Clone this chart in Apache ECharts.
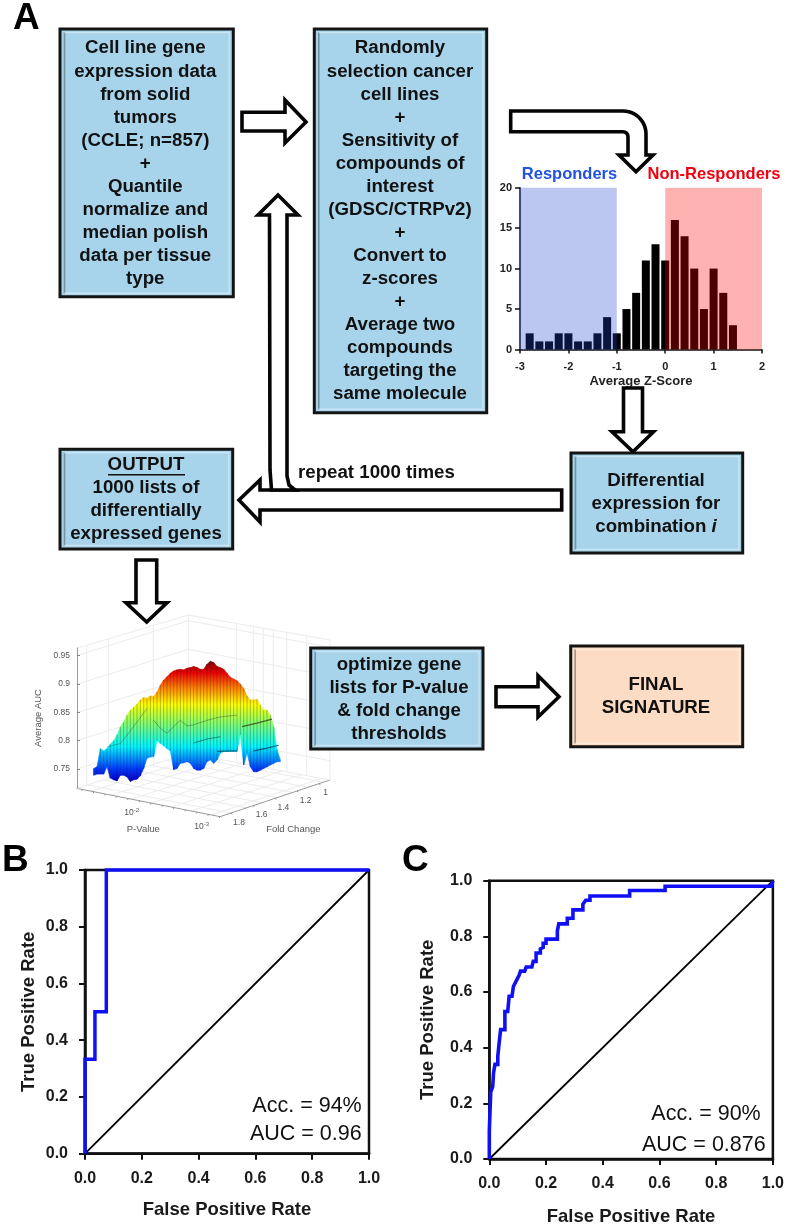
<!DOCTYPE html>
<html>
<head>
<meta charset="utf-8">
<style>html,body{margin:0;padding:0;background:#fff}#c{width:787px;height:1227px}</style>
<script src="https://cdn.jsdelivr.net/npm/echarts@6/dist/echarts.min.js"></script>
</head>
<body>
<div id="c"></div>
<script>
// ---------- data ----------
const histCenters = [-2.8,-2.6,-2.4,-2.2,-2.0,-1.8,-1.6,-1.4,-1.2,-1.0,-0.8,-0.6,-0.4,-0.2,0,0.2,0.4,0.6,0.8,1.0,1.2,1.4];
const histCounts  = [2,1,1,2,2,1,1,2,4,2,5,7,11,13,11,16,14,10,5,10,7,3];
const responderBand = [-3,-1];
const nonResponderBand = [0,2];

const aucTicks = [0.75,0.8,0.85,0.9,0.95];
const surfaceTop = [.751,.754,.786,.782,.786,.794,.800,.810,.824,.833,.845,.854,.859,.865,.872,.876,.875,.879,.878,.886,.898,.907,.913,.919,.923,.925,.926,.925,.928,.929,.931,.929,.926,.926,.935,.940,.938,.931,.929,.926,.919,.912,.909,.906,.900,.892,.879,.872,.872,.873,.863,.854,.854,.845,.825,.784,.766];
const surfaceBottom = [.739,.741,.741,.741,.754,.734,.731,.729,.739,.739,.736,.728,.731,.732,.738,.751,.769,.771,.772,.800,.795,.791,.786,.782,.749,.751,.760,.761,.763,.760,.751,.748,.748,.751,.763,.766,.760,.766,.778,.781,.781,.781,.781,.781,.810,.757,.778,.754,.745,.745,.748,.751,.754,.757,.760,.763,.763];
const ridgeA = [[44.5,.825],[49,.831],[53.5,.838]];
const ridgeB = [[48,.782],[52,.787],[55.5,.792]];
const ridgeC = [[30,.796],[34,.803],[38,.807]];
const ridgeD = [[18,.836],[20,.822],[22,.813],[24,.825],[26,.836],[28,.826],[30,.828],[34,.836],[38,.842],[43,.845]];
const ridgeE = [[4,.789],[8,.795],[12,.825],[16,.857]];
const ridgeF = [[37,.781],[43,.782]];

const rocBx = [0,0,.035,.035,.075,.075,1];
const rocBy = [0,.333,.333,.5,.5,1,1];
const rocCx = [0,0,.005,.005,.01,.012,.015,.02,.02,.03,.03,.035,.035,.04,.04,.055,.055,.065,.07,.08,.085,.095,.105,.11,.125,.13,.15,.155,.165,.165,.18,.18,.19,.19,.2,.2,.24,.24,.245,.245,.275,.275,.295,.295,.33,.33,.34,.355,.355,.495,.495,.62,.62,.995,1];
const rocCy = [0,.10,.10,.24,.24,.26,.31,.31,.34,.34,.37,.37,.42,.42,.465,.465,.53,.53,.585,.585,.62,.64,.66,.675,.675,.69,.69,.71,.71,.74,.74,.755,.76,.775,.775,.79,.79,.82,.82,.845,.845,.865,.865,.895,.895,.915,.93,.93,.945,.945,.965,.965,.98,.98,1];
const diagonal = [[0,0],[1,1]];

const box1Lines = ['Cell line gene','expression data','from solid','tumors','(CCLE; n=857)','+','Quantile','normalize and','median polish','data per tissue','type'];
const box2Lines = ['Randomly','selection cancer','cell lines','+','Sensitivity of','compounds of','interest','(GDSC/CTRPv2)','+','Convert to','z-scores','+','Average two','compounds','targeting the','same molecule'];
const outputLines = ['OUTPUT','1000 lists of','differentially','expressed genes'];
const diffLines = ['Differential','expression for','combination {i|i}'];
const optimizeLines = ['optimize gene','lists for P-value','& fold change','thresholds'];
const finalLines = ['FINAL','SIGNATURE'];

// ---------- helpers ----------
const FF = '"Liberation Sans",Arial,sans-serif';
const BOXFONT = 18.7;
const els = [];
function text(x,y,t,o){
  o=o||{};
  els.push({type:'text',x:x,y:y,rotation:o.rot||0,z:o.z||10,silent:true,style:Object.assign({
    text:t,fill:o.fill||'#111',font:(o.weight||'bold')+' '+(o.size||BOXFONT)+'px '+FF,
    textAlign:o.align||'center',textVerticalAlign:'middle'},o.rich?{rich:o.rich}:{})});
}
function line(x1,y1,x2,y2,c,w,z){
  els.push({type:'line',z:z==null?0:z,silent:true,shape:{x1,y1,x2,y2},style:{stroke:c,lineWidth:w}});
}
function poly(pts,o){
  els.push({type:'polygon',z:8,silent:true,shape:{points:pts},style:{fill:'#fff',stroke:'#050505',lineWidth:3.6,lineJoin:'miter',miterLimit:8}});
}
function box(x0,y0,x1,y1,fill,lines,cx,ys,rich){
  els.push({type:'rect',z:5,silent:true,shape:{x:x0,y:y0,width:x1-x0,height:y1-y0},style:{fill:fill,stroke:'#141414',lineWidth:3}});
  line(x0+4.5,y0+3,x0+4.5,y1-3,'rgba(90,110,120,.65)',1.6,6);
  line(x1-4,y0+3,x1-4,y1-3,'rgba(255,255,255,.35)',1.5,6);
  line(x0+4,y0+3.5,x1-4,y0+3.5,'rgba(255,255,255,.4)',1.5,6);
  line(x0+4,y1-3.5,x1-4,y1-3.5,'rgba(255,255,255,.4)',1.5,6);
  lines.forEach((t,i)=>text(cx,ys+i*23.07,t,rich?{rich:rich}:{}));
}
function arc(cx,cy,r,a0,a1,n){const p=[];for(let i=0;i<=n;i++){const a=a0+(a1-a0)*i/n;p.push([cx+r*Math.cos(a),cy+r*Math.sin(a)]);}return p;}

// panel letters
text(13,19,'A',{size:37,align:'left',fill:'#000'});
text(2,861,'B',{size:37,align:'left',fill:'#000'});
text(402,861,'C',{size:37,align:'left',fill:'#000'});

// flowchart boxes
const BLUE='#a7d4eb';
box(60,29,233.3,296.7,BLUE,box1Lines,145.3,48.3);
box(314.3,29,486.7,412.7,BLUE,box2Lines,400,48.3);
box(60,449.3,232.7,549,BLUE,outputLines,146,465);
line(108,474.8,185,474.8,'#111',1.5,10);
box(571,453,742.7,553,BLUE,diffLines,656,480.7,{i:{font:'italic bold '+BOXFONT+'px '+FF,fill:'#111'}});
box(310.7,648,483,749,BLUE,optimizeLines,399,665);
box(570.7,646,742.7,746.7,'#fcdcc4',finalLines,656,685);

// arrows
poly([[242,112.3],[285,112.3],[285,100],[306,122],[285,143],[285,131],[242,131]]);
poly([[561.7,490],[260,490],[260,480],[239,500],[260,522],[260,510],[561.7,510]]);
poly([[271.5,490],[270,470],[269.5,215],[258,215],[278,195],[298,215],[287,215],[287,476],[289,485],[295,490]]);
poly([[623.5,388],[642.5,388],[642.5,431.7],[653.5,431.7],[633,451.7],[612,431.7],[623.5,431.7]]);
poly([[136,560],[156.7,560],[156.7,602.7],[167,602.7],[146.7,622],[126,602.7],[136,602.7]]);
poly([[496,686.7],[538,686.7],[538,675.7],[559,696.7],[538,717],[538,706.7],[496,706.7]]);
poly([[510.7,111],[623,111]].concat(arc(623,134,23,-Math.PI/2,0,12)).concat([[646,155],[653,155],[636,171.7],[619,155],[628,155]]).concat(arc(623,136.7,5,0,-Math.PI/2,4)).concat([[510.7,131.7]]));
text(298,472.7,'repeat 1000 times',{align:'left',size:18.7});

// histogram group labels
text(569.5,174,'Responders',{size:16.5,fill:'#2253e0'});
text(714,174,'Non-Responders',{size:16.5,fill:'#f00010'});

// ROC annotations
text(361.7,1106,'Acc. = 94%',{size:21.5,weight:'normal',align:'right'});
text(361.7,1134,'AUC = 0.96',{size:21.5,weight:'normal',align:'right'});
text(760.7,1114,'Acc. = 90%',{size:21.5,weight:'normal',align:'right'});
text(765.7,1145,'AUC = 0.876',{size:21.5,weight:'normal',align:'right'});

// 3D box decoration of the surface plot
const zx=v=>20+v/3, zy=v=>620+v/3;
function zl(a,b,c,d,col,w){line(zx(a),zy(b),zx(c),zy(d),col||'#ececec',w||1,0);}
const L=[170,505],F=[600,590],R=[930,480],Bk=[505,400];
for(let t=.1;t<1;t+=.14){
  zl(L[0]+(F[0]-L[0])*t,L[1]+(F[1]-L[1])*t,Bk[0]+(R[0]-Bk[0])*t,Bk[1]+(R[1]-Bk[1])*t);
  zl(L[0]+(Bk[0]-L[0])*t,L[1]+(Bk[1]-L[1])*t,F[0]+(R[0]-F[0])*t,F[1]+(R[1]-F[1])*t);
}
[107,193,278,362,447].forEach(y=>{zl(170,y,505,y-105);zl(505,y-105,930,y-25);});
zl(170,85,505,-15);zl(505,-15,930,60);zl(505,-15,505,400);zl(930,60,930,480);
[200,265,400].forEach(x=>{const k=(x-170)/335;zl(x,85-100*k,x,505-105*k);});
[650,700,730,760,800,860].forEach(x=>{const k=(x-505)/425;zl(x,-15+75*k,x,400+80*k);});
zl(L[0],L[1],F[0],F[1],'#999',1);zl(F[0],F[1],R[0],R[1],'#999',1);zl(L[0],L[1],Bk[0],Bk[1]);zl(Bk[0],Bk[1],R[0],R[1]);
for(let t=.04;t<1;t+=.08){zl(L[0]+(F[0]-L[0])*t,L[1]+(F[1]-L[1])*t,L[0]+(F[0]-L[0])*t-2,L[1]+(F[1]-L[1])*t+4,'#888',1);}
for(let t=.1;t<1;t+=.2){zl(F[0]+(R[0]-F[0])*t,F[1]+(R[1]-F[1])*t,F[0]+(R[0]-F[0])*t+4,F[1]+(R[1]-F[1])*t+3,'#888',1);}
const G='#555';
const sup={s:{font:'6px '+FF,fill:G,verticalAlign:'top',padding:[0,0,4,0]}};
text(zx(335),zy(578),'10{s|-2}',{size:8.5,weight:'normal',fill:G,rich:sup});
text(zx(545),zy(620),'10{s|-3}',{size:8.5,weight:'normal',fill:G,rich:sup});
text(zx(370),zy(628),'P-Value',{size:9.5,weight:'normal',fill:G});
text(zx(820),zy(627),'Fold Change',{size:9.5,weight:'normal',fill:G});
[['1.8',657,607],['1.6',725,585],['1.4',790,563],['1.2',857,541],['1',917,519]].forEach(a=>text(zx(a[1]),zy(a[2]),a[0],{size:8.5,weight:'normal',fill:G}));

// ---------- chart ----------
const jet=[[0,'#0000c8'],[.095,'#0038ff'],[.285,'#00f8ff'],[.475,'#80ff70'],[.64,'#ffff00'],[.78,'#ff8000'],[.905,'#f00000'],[1,'#800000']].map(s=>({offset:s[0],color:s[1]}));
function renderSurface(params,api){
  const i=params.dataIndex;
  if(i>=surfaceTop.length-1) return null;
  const a=api.coord([i,surfaceTop[i]]),b=api.coord([i+1,surfaceTop[i+1]]),
        c=api.coord([i+1,surfaceBottom[i+1]]),d=api.coord([i,surfaceBottom[i]]);
  const y0=api.coord([0,.94])[1],y1=api.coord([0,.73])[1];
  const grad=new echarts.graphic.LinearGradient(0,y1,0,y0,jet,true);
  return {type:'group',children:[
    {type:'polygon',shape:{points:[a,b,c,d]},style:{fill:grad,stroke:grad,lineWidth:.6}},
    {type:'line',shape:{x1:a[0],y1:a[1],x2:d[0],y2:d[1]},style:{stroke:'rgba(0,0,30,.34)',lineWidth:.8}}
  ]};
}
const ridge=(d,col,w)=>({type:'line',xAxisIndex:1,yAxisIndex:1,data:d,showSymbol:false,silent:true,z:4,lineStyle:{color:col||'rgba(30,40,20,.7)',width:w||1}});
const rocTxt={color:'#1a1a1a',fontWeight:'bold',fontSize:16,fontFamily:FF};
function rocX(grid,gap){return {gridIndex:grid,type:'value',min:0,max:1,interval:.2,name:'False Positive Rate',nameLocation:'middle',nameGap:gap,
  nameTextStyle:Object.assign({},rocTxt,{fontSize:18.5}),axisLine:{onZero:false,lineStyle:{color:'#111',width:2.5}},axisTick:{length:6,lineStyle:{color:'#111',width:2}},
  axisLabel:Object.assign({margin:17,formatter:v=>v.toFixed(1)},rocTxt),splitLine:{show:false}};}
function rocY(grid,gap){return {gridIndex:grid,type:'value',min:0,max:1,interval:.2,name:'True Positive Rate',nameLocation:'middle',nameGap:gap,
  nameTextStyle:Object.assign({},rocTxt,{fontSize:18.5}),axisLine:{onZero:false,lineStyle:{color:'#111',width:2.5}},axisTick:{length:6,lineStyle:{color:'#111',width:2}},
  axisLabel:Object.assign({margin:17,formatter:v=>v.toFixed(1)},rocTxt),splitLine:{show:false}};}
const histAxisStyle={color:'#222',fontWeight:'bold',fontSize:11,fontFamily:FF};
const option={
  animation:false,backgroundColor:'#fff',
  grid:[
    {left:520,top:187.7,width:242,height:161.8},
    {left:77,top:648,width:206.7,height:140},
    {left:85,top:870,width:284,height:283.7,show:true,borderColor:'#111',borderWidth:2.5,backgroundColor:'transparent'},
    {left:489.3,top:880.7,width:284,height:283,show:true,borderColor:'#111',borderWidth:2.5,backgroundColor:'transparent'}
  ],
  xAxis:[
    {gridIndex:0,type:'value',min:-3,max:2,interval:1,name:'Average Z-Score',nameLocation:'middle',nameGap:25,nameTextStyle:Object.assign({},histAxisStyle,{fontSize:13}),
     axisLine:{onZero:false,lineStyle:{color:'#111',width:1.5}},axisTick:{length:4,lineStyle:{color:'#111',width:1.5}},axisLabel:Object.assign({margin:12},histAxisStyle),splitLine:{show:false}},
    {gridIndex:1,type:'value',min:-5,max:57,show:false},
    rocX(2,47),rocX(3,48)
  ],
  yAxis:[
    {gridIndex:0,type:'value',min:0,max:20,interval:5,axisLine:{onZero:false,show:true,lineStyle:{color:'#111',width:1.5}},axisTick:{show:true,length:5,lineStyle:{color:'#111',width:1.5}},axisLabel:Object.assign({margin:8},histAxisStyle),splitLine:{show:false}},
    {gridIndex:1,type:'value',min:.7165,max:.9636,name:'Average AUC',nameLocation:'middle',nameGap:34,nameTextStyle:{color:G,fontSize:9.5,fontFamily:FF},
     axisLine:{onZero:false,show:true,lineStyle:{color:'#999',width:1}},
     axisTick:{show:true,inside:true,length:3,lineStyle:{color:'#888'},customValues:aucTicks},
     axisLabel:{color:G,fontSize:8.5,fontFamily:FF,margin:7,customValues:aucTicks,formatter:v=>String(+v.toFixed(2))},splitLine:{show:false}},
    rocY(2,47),rocY(3,52)
  ],
  series:[
    {type:'bar',xAxisIndex:0,yAxisIndex:0,barWidth:8,itemStyle:{color:'#000'},silent:true,
     data:histCenters.map((x,i)=>[x,histCounts[i]]),
     markArea:{silent:true,z:5,data:[
       [{xAxis:responderBand[0],itemStyle:{color:'rgba(30,70,210,.3)'}},{xAxis:responderBand[1]}],
       [{xAxis:nonResponderBand[0],itemStyle:{color:'rgba(255,0,0,.3)'}},{xAxis:nonResponderBand[1]}]
     ]}},
    {type:'custom',xAxisIndex:1,yAxisIndex:1,silent:true,z:3,clip:false,renderItem:renderSurface,
     encode:{x:0,y:[1,2]},data:surfaceTop.map((t,i)=>[i,t,surfaceBottom[i]])},
    ridge(ridgeA,'rgba(40,60,20,.75)',1.3),ridge(ridgeB,'rgba(0,40,70,.7)',1.2),ridge(ridgeC,'rgba(0,60,50,.6)',.9),
    ridge(ridgeD,'rgba(30,40,30,.5)',.7),ridge(ridgeE,'rgba(20,50,40,.45)',.7),ridge(ridgeF,'rgba(0,70,80,.7)',1.2),
    {type:'line',xAxisIndex:2,yAxisIndex:2,data:diagonal,showSymbol:false,silent:true,clip:false,z:3,lineStyle:{color:'#000',width:1.8}},
    {type:'line',xAxisIndex:2,yAxisIndex:2,data:rocBx.map((x,i)=>[x,rocBy[i]]),showSymbol:false,silent:true,clip:false,z:4,lineStyle:{color:'#1010f5',width:3.5,join:'miter'}},
    {type:'line',xAxisIndex:3,yAxisIndex:3,data:diagonal,showSymbol:false,silent:true,clip:false,z:3,lineStyle:{color:'#000',width:1.8}},
    {type:'line',xAxisIndex:3,yAxisIndex:3,data:rocCx.map((x,i)=>[x,rocCy[i]]),showSymbol:false,silent:true,clip:false,z:4,lineStyle:{color:'#1010f5',width:3.6,join:'miter'}}
  ],
  graphic:{elements:els}
};
const chart=echarts.init(document.getElementById('c'),null,{renderer:'canvas',width:787,height:1227});
chart.setOption(option);
</script>
</body>
</html>
